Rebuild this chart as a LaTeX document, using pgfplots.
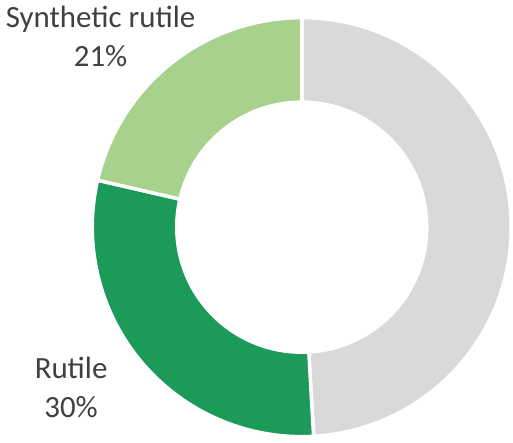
\documentclass[border=0pt]{standalone}
\usepackage{pgfplots}
\usepackage{pgfplotstable}
\pgfplotsset{compat=1.18}
\usepackage{fontspec}
\setmainfont{Carlito}

\definecolor{restgray}{HTML}{D9D9D9}
\definecolor{rutilegreen}{HTML}{1B9A5A}
\definecolor{synthgreen}{HTML}{A9D18E}
\definecolor{labelgray}{HTML}{404040}

% shares in percent, clockwise from 12 o'clock
\pgfplotstableread{
share
49.1
29.5
21.4
}\donutdata

\pgfplotstablegetelem{0}{share}\of\donutdata \let\shA\pgfplotsretval
\pgfplotstablegetelem{1}{share}\of\donutdata \let\shB\pgfplotsretval
\pgfplotstablegetelem{2}{share}\of\donutdata \let\shC\pgfplotsretval
\pgfmathsetmacro\angA{90}
\pgfmathsetmacro\angB{\angA-3.6*\shA}
\pgfmathsetmacro\angC{\angB-3.6*\shB}
\pgfmathsetmacro\angD{\angC-3.6*\shC}
\def\Ro{4.196}
\def\Ri{2.504}
\newcommand\slice[3]{%
  \filldraw[fill=#1, draw=white, line width=2pt]
    (axis cs:{\Ro*cos(#2)},{\Ro*sin(#2)}) arc[start angle=#2, end angle=#3, radius=\Ro]
    -- (axis cs:{\Ri*cos(#3)},{\Ri*sin(#3)}) arc[start angle=#3, end angle=#2, radius=\Ri]
    -- cycle;}
\tikzset{lbl/.style={anchor=base, text=labelgray, font=\fontsize{17.6}{21}\selectfont}}

\begin{document}
\begin{tikzpicture}
\begin{axis}[
    hide axis,
    x=1cm, y=1cm,
    xmin=-6.04, xmax=4.22,
    ymin=-4.17, ymax=4.55,
    enlargelimits=false,
    clip=false,
]
\path (axis cs:-6.04,-4.17) rectangle (axis cs:4.22,4.55);
\slice{restgray}{\angA}{\angB}
\slice{rutilegreen}{\angB}{\angC}
\slice{synthgreen}{\angC}{\angD}

\node[lbl] at (axis cs:-4.03,3.99) {Synthetic rutile};
\node[lbl] at (axis cs:-4.03,3.21) {21\%};
\node[lbl] at (axis cs:-4.62,-3.03) {Rutile};
\node[lbl] at (axis cs:-4.62,-3.81) {30\%};
\end{axis}
\end{tikzpicture}
\end{document}
